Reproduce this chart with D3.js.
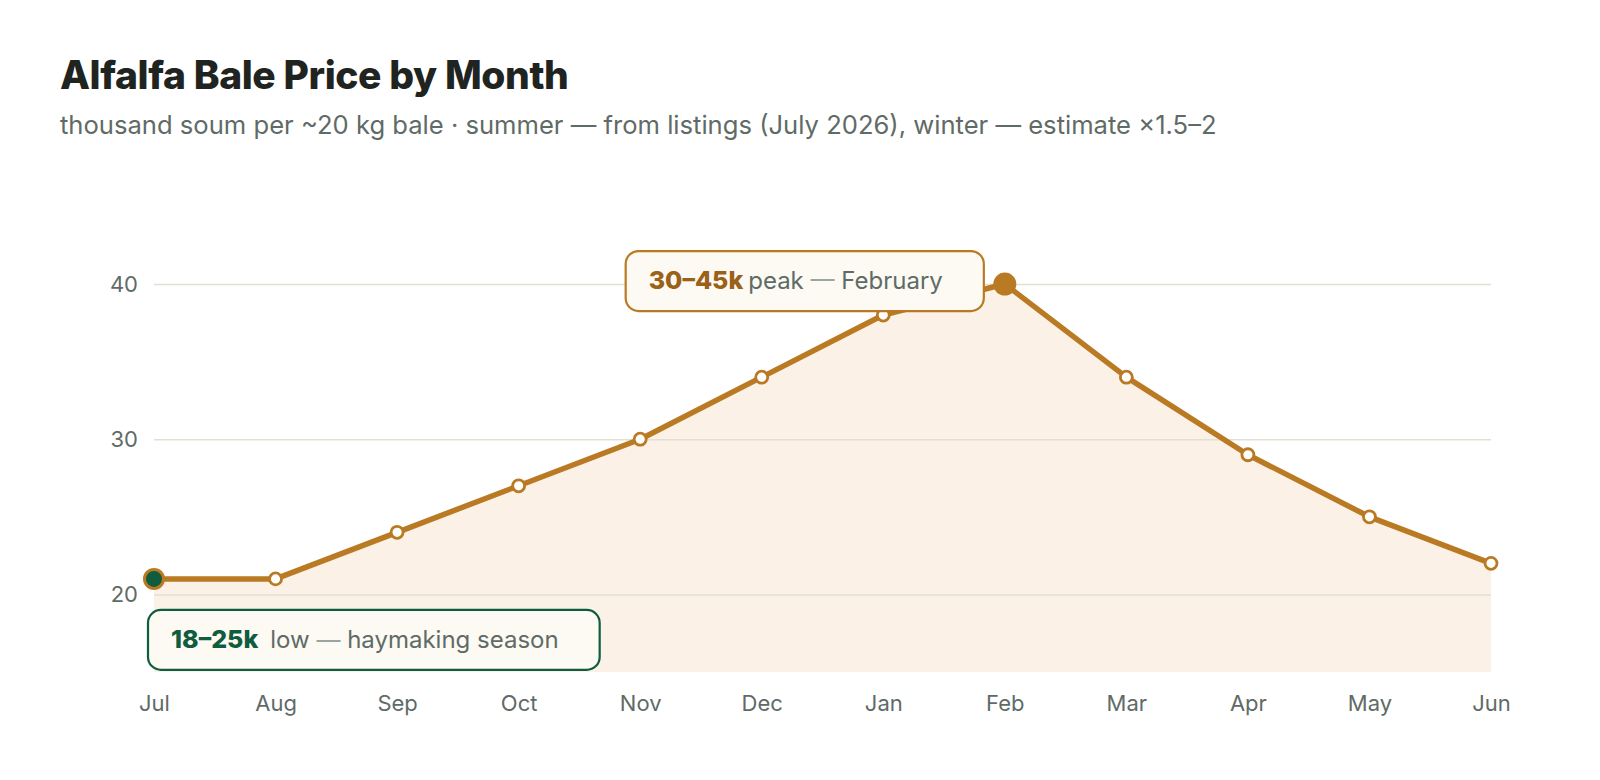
<!DOCTYPE html>
<html><head><meta charset="utf-8">
<script src="https://cdn.jsdelivr.net/npm/d3@7"></script>
<style>
html,body{margin:0;padding:0;background:#fff;}
svg{display:block;font-family:Inter, "Noto Sans", sans-serif;}
</style></head>
<body>
<svg id="c" width="1600" height="780"></svg>
<script>
const months = ["Jul","Aug","Sep","Oct","Nov","Dec","Jan","Feb","Mar","Apr","May","Jun"];
const prices = [21,21,24,27,30,34,38,40,34,29,25,22];
const yTicks = [20,30,40];
const title = "Alfalfa Bale Price by Month";
const subtitle = "thousand soum per ~20 kg bale · summer — from listings (July 2026), winter — estimate ×1.5–2";
const peakNote = {idx:7, bold:"30–45k", pre:"peak", post:"February"};
const lowNote = {idx:0, bold:"18–25k", pre:"low", post:"haymaking season"};

const svg = d3.select("#c");
const brown = "#b97a23", green = "#0f5c3e", grey = "#5f6b66";
const x = d3.scalePoint().domain(months).range([154,1491]);
const y = d3.scaleLinear().domain([15,42]).range([672,253]);

svg.append("text").attr("x",60).attr("y",89).attr("font-size",39).attr("font-weight",800)
  .attr("fill","#1f2421").attr("letter-spacing","-0.4").text(title);
svg.append("text").attr("x",60).attr("y",134).attr("font-size",25.6).attr("fill",grey).text(subtitle);

const data = months.map((m,i)=>({m, v:prices[i]}));

// area
svg.append("path").datum(data)
  .attr("d", d3.area().x(d=>x(d.m)).y0(y(15)).y1(d=>y(d.v)))
  .attr("fill","#fcf1e7");

// grid
const yAxis = d3.axisLeft(y).tickValues(yTicks).tickSize(-(1491-154)).tickPadding(16);
const gy = svg.append("g").attr("transform","translate(154,0)").call(yAxis);
gy.select(".domain").remove();
gy.selectAll(".tick line").attr("stroke","#e3dfd5").attr("stroke-width",1.5);
gy.selectAll(".tick text").attr("font-size",22).attr("fill",grey).attr("font-family","Inter");

const xAxis = d3.axisBottom(x).tickSize(0).tickPadding(0);
const gx = svg.append("g").attr("transform","translate(0,711)").call(xAxis);
gx.select(".domain").remove();
gx.selectAll(".tick text").attr("font-size",22).attr("fill",grey).attr("font-family","Inter").attr("dy",0);

// line
svg.append("path").datum(data)
  .attr("d", d3.line().x(d=>x(d.m)).y(d=>y(d.v)))
  .attr("fill","none").attr("stroke",brown).attr("stroke-width",5.5).attr("stroke-linejoin","round");

// points
svg.selectAll("circle.pt").data(data.filter((d,i)=>i!==peakNote.idx && i!==lowNote.idx)).join("circle")
  .attr("class","pt").attr("cx",d=>x(d.m)).attr("cy",d=>y(d.v)).attr("r",6)
  .attr("fill","#fff").attr("stroke",brown).attr("stroke-width",2.8);
const pk = data[peakNote.idx], lo = data[lowNote.idx];
svg.append("circle").attr("cx",x(pk.m)).attr("cy",y(pk.v)).attr("r",11.5).attr("fill",brown);
svg.append("circle").attr("cx",x(lo.m)).attr("cy",y(lo.v)).attr("r",9.5).attr("fill",green)
  .attr("stroke",brown).attr("stroke-width",3);

function note(n, color, boldColor, gap, place){
  const g = svg.append("g");
  const rect = g.append("rect").attr("rx",13).attr("fill","#fcfaf3").attr("stroke",color).attr("stroke-width",2.2);
  const t = g.append("text").attr("font-size",24);
  t.append("tspan").attr("font-weight",800).attr("font-size",25).attr("fill",boldColor).text(n.bold);
  t.append("tspan").attr("dx",gap).attr("fill",grey).text(n.pre + " ");
  t.append("tspan").attr("fill","#9ba49f").text("—");
  t.append("tspan").attr("fill",grey).text(" " + n.post);
  const w = t.node().getComputedTextLength() + gap + 64;
  const h = 60;
  const p = place(w,h);
  rect.attr("x",p.x).attr("y",p.y).attr("width",w).attr("height",h);
  t.attr("x",p.x+23).attr("y",p.y+h/2).attr("dy","0.35em");
}
note(peakNote, brown, "#9a6119", 5, (w,h)=>({x:x(pk.m)-21-w, y:y(pk.v)-h/2-3}));
note(lowNote, green, green, 12, (w,h)=>({x:x(lo.m)-6, y:y(lo.v)+31}));
</script>
</body></html>
